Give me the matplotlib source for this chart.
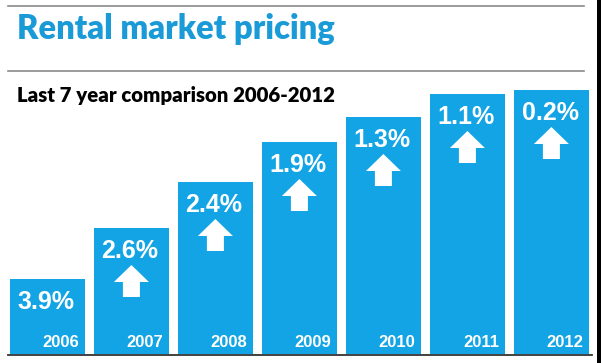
import matplotlib
matplotlib.use("Agg")
import matplotlib.pyplot as plt
from matplotlib.patches import Polygon, Rectangle
from matplotlib.lines import Line2D

# Данные графика
years   = ["2006", "2007", "2008", "2009", "2010", "2011", "2012"]
changes = ["3.9%", "2.6%", "2.4%", "1.9%", "1.3%", "1.1%", "0.2%"]
levels  = [75, 126, 172, 212, 237, 260, 264]     # высота столбцов (условный уровень)
rising  = [False, True, True, True, True, True, True]

TITLE    = "Rental market pricing"
SUBTITLE = "Last 7 year comparison 2006-2012"

BLUE  = "#12A4E4"
TBLUE = "#1A9BD7"
W, H  = 601, 363
PITCH = 84.0   # пикселей на одну категорию


def fx(x): return x / W
def fy(y): return 1 - y / H


# Подгоняем размер шрифта под нужную ширину в пикселях
def fit_width(fig, t, width_px):
    r = fig.canvas.get_renderer()
    w = t.get_window_extent(r).width
    t.set_fontsize(t.get_fontsize() * width_px / w)


def Main():
    fig = plt.figure(figsize=(W / 100, H / 100), dpi=100)
    fig.patch.set_facecolor("white")

    # Заголовок и подзаголовок
    t1 = fig.text(fx(17), fy(39), TITLE, color=TBLUE, fontsize=22,
                  fontweight="heavy", family="Lato", va="baseline", ha="left")
    t2 = fig.text(fx(17), fy(102), SUBTITLE, color="black", fontsize=14,
                  fontweight="heavy", family="Lato", va="baseline", ha="left")
    fit_width(fig, t1, 318)
    fit_width(fig, t2, 318)

    # Серые линии
    for y in (6, 71):
        fig.add_artist(Line2D([fx(8), fx(584)], [fy(y), fy(y)], color="#8a8a8a", lw=1.2))

    # Ось со столбцами: 1 единица по Y = 1 пиксель
    left = 5.4
    top, bottom = 84, 354
    ax = fig.add_axes([fx(left), fy(bottom), 7 * PITCH / W, (bottom - top) / H])
    ax.set_xlim(-0.5, 6.5)
    ax.set_ylim(0, bottom - top)
    ax.axis("off")

    x = list(range(len(years)))
    ax.bar(x, levels, width=0.9, color=BLUE, linewidth=0)

    for i in x:
        lv = levels[i]
        # Процент
        ax.text(i - 0.45 + 8 / PITCH, lv - 11, changes[i], color="white", fontsize=18,
                fontweight="bold", family="Liberation Sans", ha="left", va="top")
        # Год
        ax.text(i + 0.45 - 6 / PITCH, 7, years[i], color="white", fontsize=12,
                fontweight="bold", family="Liberation Sans", ha="right", va="baseline")
        # Стрелка вверх
        if rising[i]:
            t0, hb, sb = lv - 37, lv - 54, lv - 69
            hw, sw = 17.5 / PITCH, 8.5 / PITCH
            pts = [(i, t0), (i + hw, hb), (i + sw, hb), (i + sw, sb),
                   (i - sw, sb), (i - sw, hb), (i - hw, hb)]
            ax.add_patch(Polygon(pts, closed=True, color="white", lw=0))

    # Базовая линия и рамка справа
    fig.add_artist(Line2D([fx(8), fx(592)], [fy(354.5), fy(354.5)], color="#333333", lw=1.3))
    fig.add_artist(Rectangle((fx(597), 0), fx(4), 1, color="black", lw=0))

    fig.savefig("out.png", dpi=100)


if __name__ == "__main__": Main()
